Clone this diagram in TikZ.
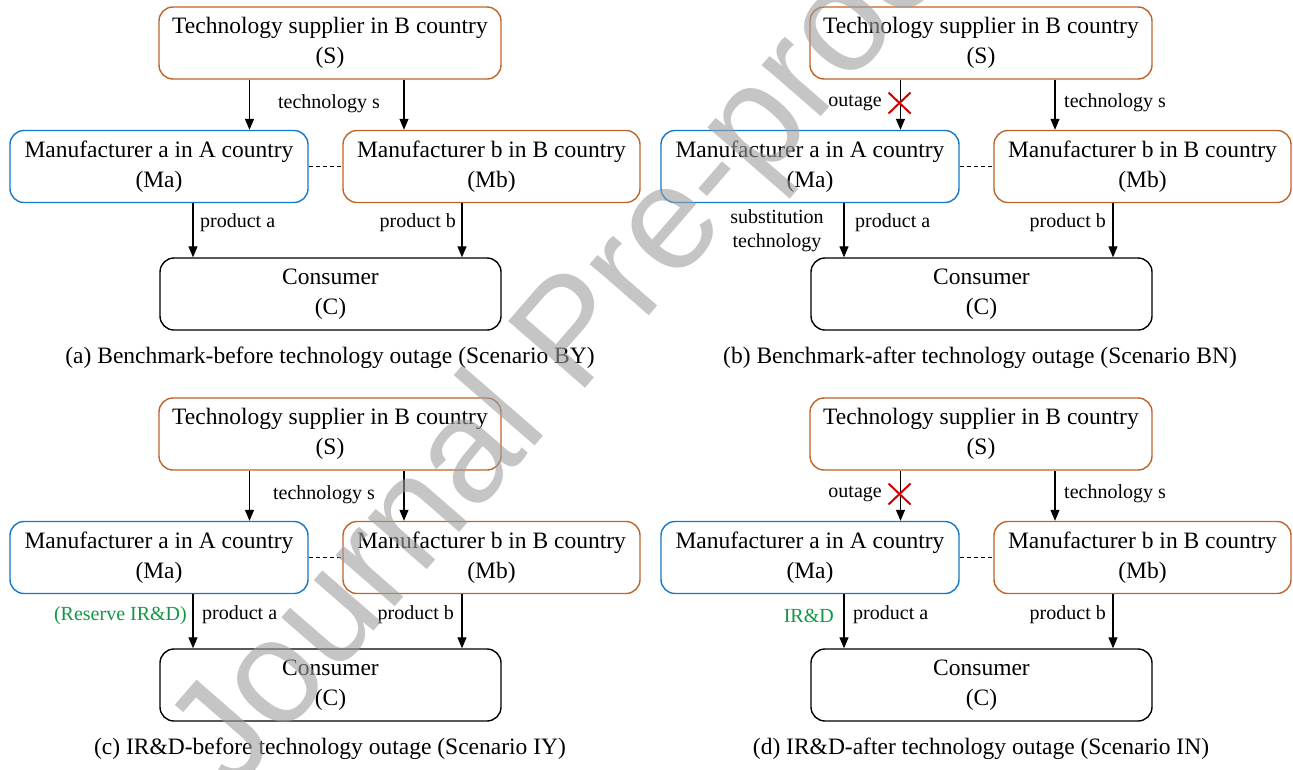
\documentclass[tikz,border=0pt]{standalone}
\usepackage{fontspec}
\setmainfont{Liberation Serif}
\newfontfamily\wmfont{Liberation Sans}
\usetikzlibrary{arrows.meta,calc}
\definecolor{brownc}{RGB}{190,100,40}
\definecolor{bluec}{RGB}{20,120,200}
\definecolor{greenc}{RGB}{20,150,70}
\definecolor{redc}{RGB}{210,0,0}
\tikzset{
 box/.style={draw, rounded corners=14pt, line width=1.4pt, align=center, inner sep=0pt, font=\fontsize{23.5}{30}\selectfont},
 sbox/.style={box, draw=brownc, minimum width=342pt, minimum height=72pt},
 mabox/.style={box, draw=bluec, minimum width=298pt, minimum height=72pt},
 mbbox/.style={box, draw=brownc, minimum width=297pt, minimum height=72pt},
 cbox/.style={box, draw=black, minimum width=341pt, minimum height=72pt},
 lbl/.style={font=\fontsize{20}{24}\selectfont, inner sep=0pt, align=center},
 captext/.style={font=\fontsize{23.5}{28}\selectfont, inner sep=0pt},
 arr/.style={line width=1.2pt, -{Triangle[length=11pt,width=9pt]}},
 link/.style={line width=1.2pt, dash pattern=on 4pt off 3pt},
 cross/.style={draw=redc, line width=2pt},
 wmark/.style={rotate=49, anchor=base west, text=black!38, opacity=0.6, inner sep=0pt, font=\wmfont\fontsize{148}{148}\selectfont},
}
\newcommand\drawpanel[3]{%
 \node[sbox] (#1S) at ({330+#2},{43+#3}) {Technology supplier in B country\\(S)};
 \node[mabox] (#1Ma) at ({159+#2},{166.5+#3}) {Manufacturer a in A country\\(Ma)};
 \node[mbbox] (#1Mb) at ({491.5+#2},{166.5+#3}) {Manufacturer b in B country\\(Mb)};
 \node[cbox] (#1C) at ({330.5+#2},{294+#3}) {Consumer\\(C)};
 \draw[link] (#1Ma) -- (#1Mb);
 \draw[arr] ([xshift=-80.5pt]#1S.south) -- ([xshift=-80.5pt]#1S.south |- #1Ma.north);
 \draw[arr] ([xshift=74pt]#1S.south) -- ([xshift=74pt]#1S.south |- #1Mb.north);
 \draw[arr] ([xshift=34pt]#1Ma.south) -- ([xshift=34pt]#1Ma.south |- #1C.north);
 \draw[arr] ([xshift=-29.5pt]#1Mb.south) -- ([xshift=-29.5pt]#1Mb.south |- #1C.north);
}
\begin{document}
\begin{tikzpicture}[x=1pt,y=-1pt]
\useasboundingbox (0,0) rectangle (1293,769);
% (a)
\drawpanel{a}{0}{0}
\node[lbl] (aT) at (329,104) {technology s};
\node[lbl, anchor=west] (aPa) at (200,223) {product a};
\node[lbl, anchor=east] (aPb) at (456,223) {product b};
\node[captext] (acap) at (330,358) {(a) Benchmark-before technology outage (Scenario BY)};
% (b)
\drawpanel{b}{651}{0}
\node[lbl, anchor=east] (bO) at (882,103) {outage};
\coordinate (bX) at (899.5,103);
\draw[cross] ($(bX)+(-11,-10.5)$) -- ($(bX)+(11,10.5)$) ($(bX)+(-11,10.5)$) -- ($(bX)+(11,-10.5)$);
\node[lbl, anchor=west] (bT) at (1064,103) {technology s};
\node[lbl] (bSub) at (777,231) {substitution\\technology};
\node[lbl, anchor=west] (bPa) at (855,223) {product a};
\node[lbl, anchor=east] (bPb) at (1106,223) {product b};
\node[captext] (bcap) at (980,358) {(b) Benchmark-after technology outage (Scenario BN)};
% (c)
\drawpanel{c}{0}{391}
\node[lbl] (cT) at (324,495) {technology s};
\node[lbl, anchor=west] (cPa) at (202,615) {product a};
\node[lbl, anchor=east] (cPb) at (454,615) {product b};
\node[lbl, anchor=east, text=greenc] (cR) at (187,616) {(Reserve IR\&D)};
\node[captext] (ccap) at (330,749) {(c) IR\&D-before technology outage (Scenario IY)};
% (d)
\drawpanel{d}{651}{391}
\node[lbl, anchor=east] (dO) at (882,494) {outage};
\coordinate (dX) at (899.5,494);
\draw[cross] ($(dX)+(-11,-10.5)$) -- ($(dX)+(11,10.5)$) ($(dX)+(-11,10.5)$) -- ($(dX)+(11,-10.5)$);
\node[lbl, anchor=west] (dT) at (1064,494) {technology s};
\node[lbl, anchor=east, text=greenc] (dR) at (834,616) {IR\&D};
\node[lbl, anchor=west] (dPa) at (853,615) {product a};
\node[lbl, anchor=east] (dPb) at (1106,615) {product b};
\node[captext] (dcap) at (981,749) {(d) IR\&D-after technology outage (Scenario IN)};
% watermark
\begin{scope}
\clip (0,0) rectangle (1293,769);
\node[wmark] (wm) at (232,795) {Journal Pre-proof};
\end{scope}
\end{tikzpicture}
\end{document}
